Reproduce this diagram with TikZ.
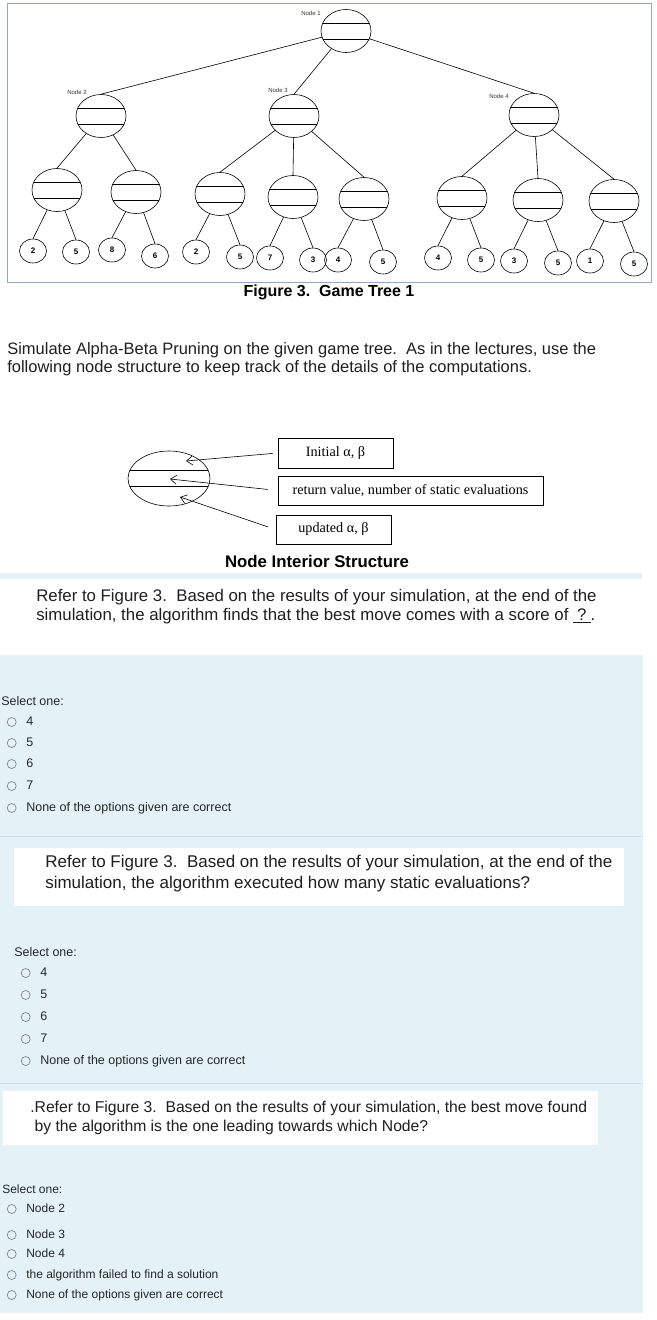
\documentclass[tikz,border=0pt]{standalone}
\usepackage{fontspec}
\setmainfont{Liberation Sans}
\newfontfamily\timesface{Liberation Serif}
\usetikzlibrary{shapes.geometric,arrows.meta}

\definecolor{panelblue}{RGB}{228,242,248}
\definecolor{sepblue}{RGB}{200,224,234}
\definecolor{framegray}{RGB}{150,168,192}
\definecolor{radiogray}{RGB}{120,120,120}

\tikzset{
  gnode/.style={ellipse,draw,minimum width=50pt,minimum height=43pt,inner sep=0pt,
    path picture={
      \draw ([yshift=8pt]path picture bounding box.west) -- ([yshift=8pt]path picture bounding box.east);
      \draw ([yshift=-8pt]path picture bounding box.west) -- ([yshift=-8pt]path picture bounding box.east);}},
  leaf/.style={ellipse,draw,minimum width=27pt,minimum height=24pt,inner sep=0pt,
    font=\fontsize{8}{9}\selectfont\bfseries},
  tag/.style={font=\fontsize{6}{7}\selectfont,text=black!80},
  inbox/.style={draw,minimum height=29pt,inner sep=0pt,font=\timesface\fontsize{14.2}{16}\selectfont},
  head/.style={font=\fontsize{16}{18}\selectfont\bfseries},
  question/.style={anchor=west,align=left,inner sep=0pt,text=black!88},
  radio/.style={circle,draw=radiogray,minimum size=9pt,inner sep=0pt},
  opt/.style={anchor=west,inner sep=0pt,text height=9pt,text depth=3pt,text=black!85,
    font=\fontsize{12.5}{14}\selectfont,label={[radio,label distance=9.5pt]left:{}}},
  pick/.style={anchor=west,inner sep=0pt,text=black!85,font=\fontsize{12.5}{14}\selectfont}
}

\begin{document}
\begin{tikzpicture}[x=1pt,y=-1pt,line width=0.6pt]
  \useasboundingbox (0,0) rectangle (656,1320);

  \draw[framegray,line width=0.8pt] (7,3) rectangle (651,282);

  \node[gnode] (n1) at (346,31) {};
  \node[gnode] (n2) at (101,116) {};
  \node[gnode] (n3) at (294,116) {};
  \node[gnode] (n4) at (534,115) {};

  \node[tag] (t1) at (311,13) {Node 1};
  \node[tag] (t2) at (77,92) {Node 2};
  \node[tag] (t3) at (278,90) {Node 3};
  \node[tag] (t4) at (499,96) {Node 4};

  \node[gnode] (m1) at (57,190) {};
  \node[gnode] (m2) at (136,192) {};
  \node[gnode] (m3) at (220,194) {};
  \node[gnode] (m4) at (293,197) {};
  \node[gnode] (m5) at (364,199) {};
  \node[gnode] (m6) at (462,198) {};
  \node[gnode] (m7) at (538,200) {};
  \node[gnode] (m8) at (614,201) {};

  \node[leaf] (l1) at (33,251) {2};
  \node[leaf] (l2) at (76,252) {5};
  \node[leaf] (l3) at (112,250) {8};
  \node[leaf] (l4) at (155,256) {6};
  \node[leaf] (l5) at (196,252) {2};
  \node[leaf] (l6) at (240,257) {5};
  \node[leaf] (l7) at (270,258) {7};
  \node[leaf] (l8) at (313,260) {3};
  \node[leaf] (l9) at (338,260) {4};
  \node[leaf] (l10) at (383,262) {5};
  \node[leaf] (l11) at (438,258) {4};
  \node[leaf] (l12) at (481,260) {5};
  \node[leaf] (l13) at (514,261) {3};
  \node[leaf] (l14) at (558,263) {5};
  \node[leaf] (l15) at (590,261) {1};
  \node[leaf] (l16) at (634,264) {5};

  \draw (n1) edge (n2.north);
  \draw (n1) edge (n3.north);
  \draw (n1) edge (n4.north);
  \draw (n2) edge (m1.north);
  \draw (n2) edge (m2.north);
  \draw (n3) edge (m3.north);
  \draw (n3) edge (m4.north);
  \draw (n3) edge (m5.north);
  \draw (n4) edge (m6.north);
  \draw (n4) edge (m7.north);
  \draw (n4) edge (m8.north);

  \draw (m1) edge (l1.north);
  \draw (m1) edge (l2.north);
  \draw (m2) edge (l3.north);
  \draw (m2) edge (l4.north);
  \draw (m3) edge (l5.north);
  \draw (m3) edge (l6.north);
  \draw (m4) edge (l7.north);
  \draw (m4) edge (l8.north);
  \draw (m5) edge (l9.north);
  \draw (m5) edge (l10.north);
  \draw (m6) edge (l11.north);
  \draw (m6) edge (l12.north);
  \draw (m7) edge (l13.north);
  \draw (m7) edge (l14.north);
  \draw (m8) edge (l15.north);
  \draw (m8) edge (l16.north);

  \node[head] (fig) at (329,292) {Figure 3.\ \ Game Tree 1};

  \node[question,font=\fontsize{16.5}{18}\selectfont] (intro) at (7,359)
    {Simulate Alpha-Beta Pruning on the given game tree.\ \ As in the lectures, use the\\
     following node structure to keep track of the details of the computations.};

  % node interior structure
  \node[gnode,minimum width=82pt,minimum height=55pt] (ns) at (169,478.5) {};
  \coordinate (p1) at (186,461);
  \coordinate (p2) at (170,479);
  \coordinate (p3) at (180,497);
  \node[inbox,minimum width=115pt,minimum height=30pt] (b1) at (335.5,453) {Initial α, β};
  \node[inbox,minimum width=265pt] (b2) at (410.5,490.5) {return value, number of static evaluations};
  \node[inbox,minimum width=115pt] (b3) at (333.5,529.5) {updated α, β};
  \draw[-{Straight Barb[length=6pt,width=9pt]},shorten <=5pt] (b1.west) -- (p1);
  \draw[-{Straight Barb[length=6pt,width=9pt]},shorten <=10pt] (b2.west) -- (p2);
  \draw[-{Straight Barb[length=6pt,width=9pt]},shorten <=8pt] (b3.west) -- (p3);
  \node[head,font=\fontsize{16.8}{18}\selectfont\bfseries] (nis) at (317,561) {Node Interior Structure};

  % question panels
  \fill[panelblue] (0,573) rectangle (642,579);
  \fill[panelblue] (0,655) rectangle (643,1313);
  \draw[sepblue] (0,836) -- (643,836);
  \draw[sepblue] (0,1083) -- (643,1083);
  \fill[white] (14,848) rectangle (624,906);
  \fill[white] (3,1091) rectangle (598,1145);

  \node[question,font=\fontsize{16.8}{19}\selectfont] (q1) at (36,606.5)
    {Refer to Figure 3.\ \ Based on the results of your simulation, at the end of the\\
     simulation, the algorithm finds that the best move comes with a score of \underline{\hspace{4pt}?\hspace{4pt}}.};
  \node[pick] (s1) at (1,701) {Select one:};
  \node[opt] (a1) at (26,722) {4};
  \node[opt] (a2) at (26,743) {5};
  \node[opt] (a3) at (26,764) {6};
  \node[opt] (a4) at (26,786) {7};
  \node[opt] (a5) at (26,808) {None of the options given are correct};

  \node[question,font=\fontsize{17}{21}\selectfont] (q2) at (45,873.5)
    {Refer to Figure 3.\ \ Based on the results of your simulation, at the end of the\\
     simulation, the algorithm executed how many static evaluations?};
  \node[pick] (s2) at (14,952) {Select one:};
  \node[opt] (c1) at (40,973) {4};
  \node[opt] (c2) at (40,995) {5};
  \node[opt] (c3) at (40,1017) {6};
  \node[opt] (c4) at (40,1039) {7};
  \node[opt] (c5) at (40,1061) {None of the options given are correct};

  \node[question,font=\fontsize{15.7}{19}\selectfont] (q3) at (30,1117.5)
    {.Refer to Figure 3.\ \ Based on the results of your simulation, the best move found\\
     \ by the algorithm is the one leading towards which Node?};
  \node[pick,font=\fontsize{12}{14}\selectfont] (s3) at (2,1189) {Select one:};
  \node[opt,font=\fontsize{12}{14}\selectfont] (d1) at (26,1209) {Node 2};
  \node[opt,font=\fontsize{12}{14}\selectfont] (d2) at (26,1235) {Node 3};
  \node[opt,font=\fontsize{12}{14}\selectfont] (d3) at (26,1254) {Node 4};
  \node[opt,font=\fontsize{12}{14}\selectfont] (d4) at (26,1275) {the algorithm failed to find a solution};
  \node[opt,font=\fontsize{12}{14}\selectfont] (d5) at (26,1295) {None of the options given are correct};
\end{tikzpicture}
\end{document}
